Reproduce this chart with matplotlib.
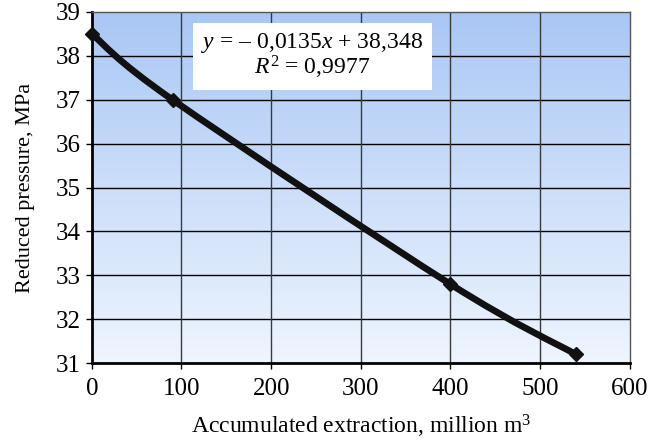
import numpy as np
import matplotlib.pyplot as plt
from matplotlib.path import Path
from matplotlib.patches import PathPatch
from matplotlib.colors import LinearSegmentedColormap

plt.rcParams['font.family'] = ['Liberation Serif', 'DejaVu Serif']
plt.rcParams['mathtext.fontset'] = 'custom'
plt.rcParams['mathtext.rm'] = 'Liberation Serif'
plt.rcParams['mathtext.it'] = 'Liberation Serif:italic'

# data
extraction = [0, 90, 400, 540]
pressure = [38.5, 37.0, 32.8, 31.2]
xticks = [0, 100, 200, 300, 400, 500, 600]
yticks = [31, 32, 33, 34, 35, 36, 37, 38, 39]
eq_text = '$y$ = – 0,0135$x$ + 38,348'
r2_text = '$R^{\\mathrm{2}}$ = 0,9977'


def smooth_path(xs, ys):
    # Catmull-Rom style cubic segments, like a smoothed spreadsheet line
    pts = np.column_stack([xs, ys]).astype(float)
    ext = np.vstack([pts[0], pts, pts[-1]])
    verts = [pts[0]]
    codes = [Path.MOVETO]
    for i in range(1, len(ext) - 2):
        p0, p1, p2, p3 = ext[i - 1], ext[i], ext[i + 1], ext[i + 2]
        c1 = p1 + (p2 - p0) / 6
        c2 = p2 - (p3 - p1) / 6
        verts += [c1, c2, p2]
        codes += [Path.CURVE4] * 3
    return Path(verts, codes)


fig = plt.figure(figsize=(6.56, 4.44), dpi=100)
ax = fig.add_axes([0.140, 0.182, 0.820, 0.791])

# gradient background
cmap = LinearSegmentedColormap.from_list('bg', ['#eef5fe', '#a9c7f5'])
grad = np.linspace(0, 1, 256).reshape(-1, 1)
ax.imshow(grad, cmap=cmap, origin='lower', aspect='auto',
          extent=[0, 1, 0, 1], transform=ax.transAxes, zorder=0)

ax.set_xlim(0, 600)
ax.set_ylim(31, 39)
ax.set_xticks(xticks)
ax.set_yticks(yticks)

for y in yticks[1:-1]:
    ax.axhline(y, color='black', lw=1.0, zorder=1)
for x in xticks[1:-1]:
    ax.axvline(x, color='#3a3a3a', lw=1.0, zorder=1)

ax.add_patch(PathPatch(smooth_path(extraction, pressure), fill=False,
                       lw=4.8, edgecolor='#111111', zorder=3,
                       capstyle='round', joinstyle='round'))
ax.plot(extraction, pressure, linestyle='none', marker='D', ms=7,
        color='#111111', zorder=4, clip_on=False)

ax.text(0.41, 0.945, eq_text + '\n' + r2_text, transform=ax.transAxes,
        ha='center', va='top', fontsize=17, multialignment='center',
        linespacing=0.95, zorder=5,
        bbox=dict(boxstyle='square,pad=0.35', facecolor='white', edgecolor='none'))

for s in ['left', 'bottom']:
    ax.spines[s].set_linewidth(2.0)
    ax.spines[s].set_color('black')
for s in ['top', 'right']:
    ax.spines[s].set_linewidth(1.0)
    ax.spines[s].set_color('#555555')

ax.tick_params(axis='both', labelsize=18, direction='out', length=4,
               width=1, colors='black')
ax.tick_params(axis='x', pad=7)
ax.tick_params(axis='y', pad=4)
ax.set_xlabel('Accumulated extraction, million m$^{\\mathrm{3}}$', fontsize=17, labelpad=9)
ax.set_ylabel('Reduced pressure, MPa', fontsize=16, labelpad=15)

fig.savefig('out.png', dpi=100)
